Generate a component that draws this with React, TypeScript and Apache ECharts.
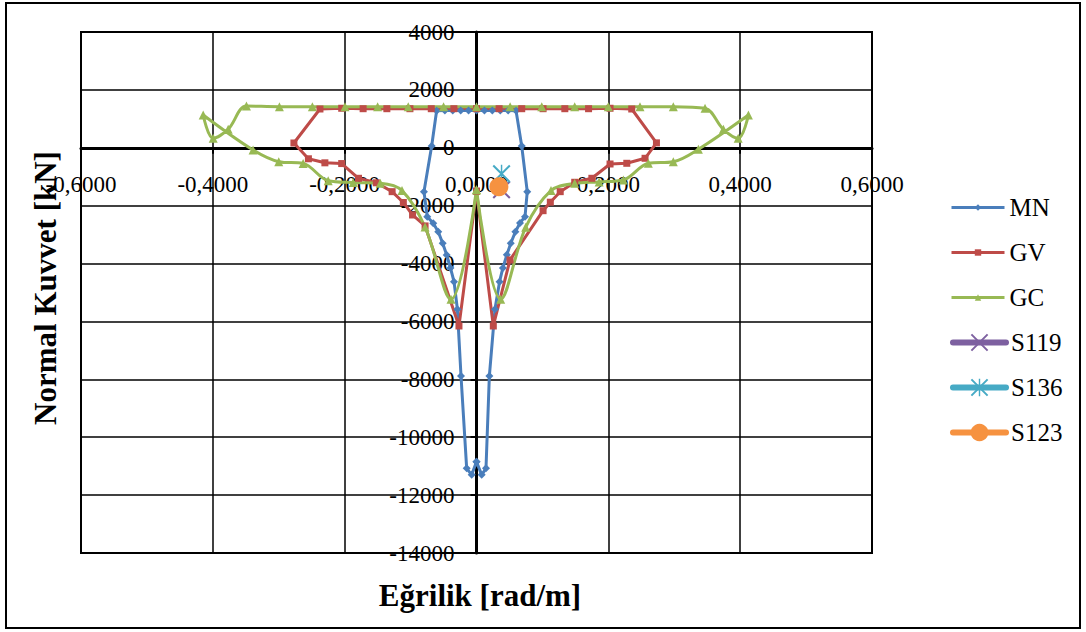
import React, { useEffect, useRef } from "react";
import * as echarts from "echarts";

// ---- Data ----
const mnX = [0, -0.0073, -0.0149, -0.0235, -0.029, -0.0341, -0.0395, -0.0452, -0.0513, -0.058, -0.0656, -0.0747, -0.0797, -0.068, -0.0605, -0.048, -0.036, -0.024, -0.012, 0, 0.012, 0.024, 0.036, 0.048, 0.06, 0.0686, 0.077, 0.0736, 0.066, 0.059, 0.052, 0.046, 0.040, 0.035, 0.028, 0.0195, 0.0144, 0.0079, 0];
const mnY = [-10850, -11300, -11075, -7885, -5580, -4626, -4150, -3704, -3300, -2900, -2610, -2380, -1516, 60, 1280, 1285, 1290, 1290, 1290, 1290, 1290, 1290, 1290, 1285, 1280, 60, -1516, -2380, -2600, -2900, -3300, -3700, -4150, -4626, -5580, -7885, -11075, -11300, -10850];

const gvX = [0, -0.0266, -0.078, -0.097, -0.111, -0.128, -0.152, -0.179, -0.2045, -0.23, -0.255, -0.277, -0.2375, -0.2045, -0.172, -0.136, -0.101, -0.0686, -0.0343, 0, 0.0343, 0.0686, 0.101, 0.134, 0.17, 0.2026, 0.2355, 0.273, 0.2557, 0.228, 0.2026, 0.175, 0.149, 0.127, 0.112, 0.101, 0.0508, 0.0255, 0];
const gvY = [-1500, -6157, -2700, -2322, -1890, -1516, -1210, -1054, -545, -520, -380, 165, 1340, 1365, 1350, 1350, 1350, 1350, 1350, 1350, 1350, 1350, 1350, 1350, 1350, 1365, 1340, 170, -363, -536, -560, -1054, -1192, -1516, -1880, -2173, -3876, -6157, -1500];

const gcX = [0, -0.0387, -0.078, -0.113, -0.146, -0.187, -0.225, -0.263, -0.3, -0.339, -0.4146, -0.3995, -0.3767, -0.349, -0.299, -0.249, -0.1995, -0.15, -0.1035, -0.05, 0, 0.051, 0.099, 0.149, 0.2, 0.248, 0.2986, 0.3467, 0.3745, 0.397, 0.4125, 0.3366, 0.2986, 0.2607, 0.2228, 0.186, 0.149, 0.113, 0.0746, 0.0367, 0];
const gcY = [-1450, -5235, -2740, -1480, -1227, -1200, -1137, -540, -480, -76, 1133, 328, 639, 1440, 1420, 1420, 1420, 1420, 1420, 1420, 1420, 1420, 1420, 1420, 1420, 1420, 1420, 1365, 639, 328, 1133, -52, -480, -536, -1113, -1180, -1227, -1480, -2748, -5235, -1450];

const s119 = [[0.038, -1450]];
const s136 = [[0.038, -900]];
const s123 = [[0.034, -1350]];

const xTicks = { min: -0.6, max: 0.6, interval: 0.2 };
const yTicks = { min: -14000, max: 4000, interval: 2000 };

const pairs = (xs: number[], ys: number[]) => xs.map((x, i) => [x, ys[i]]);

const SERIF = "'Liberation Serif', 'Times New Roman', serif";

const X_PATH = "path://M0,1.6 L1.6,0 L20,18.4 L18.4,20 Z M18.4,0 L20,1.6 L1.6,20 L0,18.4 Z";
const STAR_PATH = "path://M0,1.6 L1.6,0 L20,18.4 L18.4,20 Z M18.4,0 L20,1.6 L1.6,20 L0,18.4 Z M9.2,0 L10.8,0 L10.8,20 L9.2,20 Z";

// layout of the plot area
const W = 1086, H = 632;
const G = { left: 81, right: 214, top: 32, bottom: 79 };

export default function App() {
  const ref = useRef<HTMLDivElement>(null);

  useEffect(() => {
    if (!ref.current) return;
    const chart = echarts.init(ref.current, null, { renderer: "svg" });
    const legendText = { fontFamily: SERIF, fontSize: 25, color: "#000" };
    const gw = W - G.left - G.right;
    const gh = H - G.top - G.bottom;
    const zeroYOffset = -(gh * (0 - yTicks.min)) / (yTicks.max - yTicks.min);
    const zeroXOffset = -(gw * (0 - xTicks.min)) / (xTicks.max - xTicks.min);
    chart.setOption({
      animation: false,
      backgroundColor: "#ffffff",
      grid: {
        ...G,
        show: true,
        borderColor: "#000",
        borderWidth: 2,
        backgroundColor: "transparent",
      },
      xAxis: {
        type: "value",
        position: "bottom",
        offset: zeroYOffset,
        min: xTicks.min,
        max: xTicks.max,
        interval: xTicks.interval,
        axisLine: { onZero: false, lineStyle: { color: "#000", width: 3 } },
        axisTick: { show: true, length: 6, lineStyle: { color: "#000", width: 2 } },
        axisLabel: {
          formatter: (v: number) => v.toFixed(4).replace(".", ","),
          color: "#000",
          fontFamily: SERIF,
          fontSize: 23,
          margin: 25,
        },
        splitLine: { show: true, lineStyle: { color: "#000", width: 1.5 } },
      },
      yAxis: {
        type: "value",
        position: "left",
        offset: zeroXOffset,
        min: yTicks.min,
        max: yTicks.max,
        interval: yTicks.interval,
        axisLine: { onZero: false, lineStyle: { color: "#000", width: 3 } },
        axisTick: { show: true, length: 6, lineStyle: { color: "#000", width: 2 } },
        axisLabel: {
          formatter: (v: number) => String(v),
          color: "#000",
          fontFamily: SERIF,
          fontSize: 23,
          margin: 22,
        },
        splitLine: { show: true, lineStyle: { color: "#000", width: 1.5 } },
      },
      legend: [
        {
          data: ["MN", "GV", "GC"],
          orient: "vertical",
          left: 945,
          top: 190,
          itemWidth: 53,
          itemHeight: 8,
          itemGap: 20,
          selectedMode: false,
          lineStyle: { width: 3 },
          textStyle: legendText,
        },
        {
          data: ["S119", "S136", "S123"],
          orient: "vertical",
          left: 945,
          top: 325,
          itemWidth: 53,
          itemHeight: 22,
          itemGap: 20,
          selectedMode: false,
          lineStyle: { width: 6, cap: "round" },
          textStyle: legendText,
        },
      ],
      graphic: [
        {
          type: "rect",
          shape: { x: 6, y: 3, width: 1074, height: 625 },
          style: { fill: "none", stroke: "#000", lineWidth: 2 },
          silent: true,
        },
        {
          type: "text",
          x: 45,
          y: 288,
          rotation: Math.PI / 2,
          style: {
            text: "Normal Kuvvet [kN]",
            font: `bold 31px ${SERIF}`,
            fill: "#000",
            textAlign: "center",
            textVerticalAlign: "middle",
          },
        },
        {
          type: "text",
          x: 480,
          y: 595,
          style: {
            text: "Eğrilik [rad/m]",
            font: `bold 31px ${SERIF}`,
            fill: "#000",
            textAlign: "center",
            textVerticalAlign: "middle",
          },
        },
      ],
      series: [
        {
          name: "MN",
          type: "line",
          data: pairs(mnX, mnY),
          symbol: "diamond",
          symbolSize: 8,
          lineStyle: { width: 3, color: "#4A7EBB" },
          itemStyle: { color: "#4A7EBB" },
        },
        {
          name: "GV",
          type: "line",
          data: pairs(gvX, gvY),
          symbol: "rect",
          symbolSize: 7,
          lineStyle: { width: 3, color: "#BE4B48" },
          itemStyle: { color: "#BE4B48" },
        },
        {
          name: "GC",
          type: "line",
          data: pairs(gcX, gcY),
          smooth: 0.35,
          symbol: "triangle",
          symbolSize: 9,
          lineStyle: { width: 3, color: "#98B954" },
          itemStyle: { color: "#98B954" },
        },
        {
          name: "S119",
          type: "line",
          data: s119,
          symbol: X_PATH,
          symbolSize: 18,
          lineStyle: { width: 6, color: "#7D60A0" },
          itemStyle: { color: "#7D60A0" },
        },
        {
          name: "S136",
          type: "line",
          data: s136,
          symbol: STAR_PATH,
          symbolSize: 18,
          lineStyle: { width: 6, color: "#46AAC5" },
          itemStyle: { color: "#46AAC5" },
        },
        {
          name: "S123",
          type: "line",
          data: s123,
          symbol: "circle",
          symbolSize: 19,
          lineStyle: { width: 6, color: "#F69240" },
          itemStyle: { color: "#F69240" },
        },
      ],
    });
    return () => chart.dispose();
  }, []);

  return (
    <div
      ref={ref}
      style={{ position: "fixed", left: 0, top: 0, width: W, height: H, background: "#fff" }}
    />
  );
}
